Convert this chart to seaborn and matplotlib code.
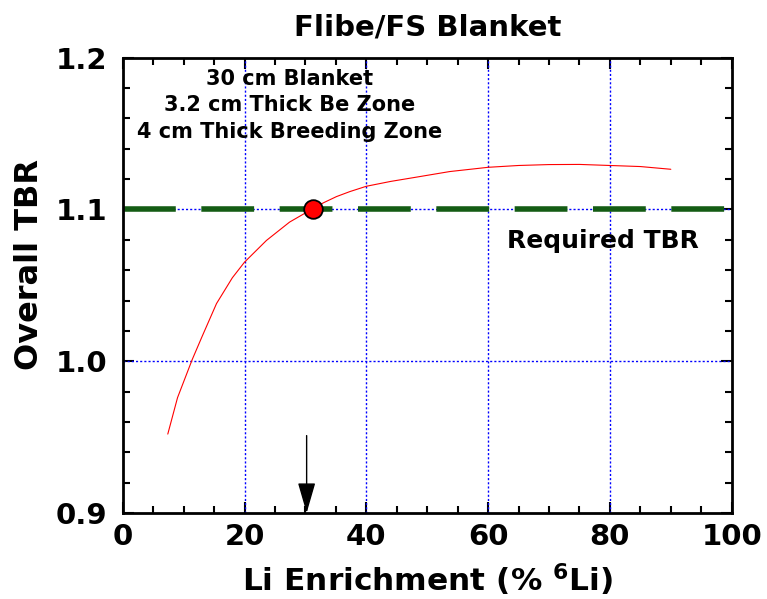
import numpy as np
import pandas as pd
import matplotlib
matplotlib.use("Agg")
import matplotlib.pyplot as plt
import seaborn as sns
from matplotlib.ticker import MultipleLocator, FormatStrFormatter

# TBR vs Li-6 enrichment
enrichment = [7.4, 9.0, 11.4, 13.0, 15.4, 18.0, 20.0, 23.6, 27.4, 31.2, 33.0, 35.1, 37.3,
              40.0, 44.0, 48.2, 53.7, 60.0, 65.0, 70.0, 75.0, 80.0, 85.0, 90.0]
tbr = [0.952, 0.976, 1.001, 1.016, 1.038, 1.055, 1.0653, 1.0796, 1.0917, 1.1005, 1.1045, 1.1085, 1.1118,
       1.1153, 1.1185, 1.1213, 1.125, 1.1278, 1.129, 1.1296, 1.1297, 1.129, 1.1283, 1.1265]
required_tbr = 1.1
design_point_x = [31.2]
design_point_y = [1.1]
arrow_x = 30.2
note_lines = ["30 cm Blanket", "3.2 cm Thick Be Zone", "4 cm Thick Breeding Zone"]

curve = pd.DataFrame({"Li Enrichment": enrichment, "TBR": tbr})
point = pd.DataFrame({"x": design_point_x, "y": design_point_y})

sns.set_style("ticks")
plt.rcParams["font.family"] = ["DejaVu Sans"]
plt.rcParams["font.weight"] = "bold"
plt.rcParams["text.color"] = "black"
plt.rcParams["axes.labelcolor"] = "black"
plt.rcParams["xtick.color"] = "black"
plt.rcParams["ytick.color"] = "black"
plt.rcParams["axes.edgecolor"] = "black"
plt.rcParams["mathtext.fontset"] = "custom"
plt.rcParams["mathtext.rm"] = "DejaVu Sans:bold"
plt.rcParams["mathtext.bf"] = "DejaVu Sans:bold"

fig = plt.figure(figsize=(7.67, 5.99), dpi=100)
ax = fig.add_axes([0.160, 0.1436, 0.794, 0.760])

# grid
for gx in [20, 40, 60, 80]:
    ax.axvline(gx, color="blue", lw=1, ls=(0, (1.5, 1.5)), zorder=1)
for gy in [1.0, 1.1]:
    ax.axhline(gy, color="blue", lw=1, ls=(0, (1.5, 1.5)), zorder=1)

# required TBR line
ax.axhline(required_tbr, color="#145c14", lw=4, ls=(0, (9.5, 4.6)), zorder=2)

sns.lineplot(data=curve, x="Li Enrichment", y="TBR", color="red", lw=0.8, ax=ax, zorder=3)
sns.scatterplot(data=point, x="x", y="y", color="red", edgecolor="black", linewidth=1.3,
                s=180, ax=ax, zorder=4, legend=False)

ax.annotate("", xy=(arrow_x, 0.9), xytext=(arrow_x, 0.951),
            arrowprops=dict(arrowstyle="-|>,head_length=1.9,head_width=0.55",
                            color="black", lw=1, shrinkA=0, shrinkB=0))

for i, line in enumerate(note_lines):
    ax.text(27.4, 1.1862 - i * 0.01745, line, ha="center", va="center",
            fontsize=15, fontweight="bold")
ax.text(78.8, 1.079, "Required TBR", ha="center", va="center", fontsize=18, fontweight="bold")

ax.set_xlim(0, 100)
ax.set_ylim(0.9, 1.2)
ax.xaxis.set_major_locator(MultipleLocator(20))
ax.xaxis.set_minor_locator(MultipleLocator(5))
ax.yaxis.set_major_locator(MultipleLocator(0.1))
ax.yaxis.set_minor_locator(MultipleLocator(0.02))
ax.xaxis.set_major_formatter(FormatStrFormatter("%d"))
ax.yaxis.set_major_formatter(FormatStrFormatter("%.1f"))
ax.tick_params(which="both", direction="in", top=True, right=True, width=1.5)
ax.tick_params(which="major", length=8, labelsize=21)
ax.tick_params(axis="x", which="major", pad=7)
ax.tick_params(axis="y", which="major", pad=11)
ax.tick_params(which="minor", length=5)
for lab in ax.get_xticklabels() + ax.get_yticklabels():
    lab.set_fontweight("bold")
for sp in ax.spines.values():
    sp.set_linewidth(2)
    sp.set_visible(True)

ax.set_xlabel(r"Li Enrichment (% $^{6}$Li)", fontsize=22.5, fontweight="bold", labelpad=8)
ax.set_ylabel("Overall TBR", fontsize=23, fontweight="bold", labelpad=8, y=0.545)
ax.set_title("Flibe/FS Blanket", fontsize=21, fontweight="bold", pad=16)

fig.savefig("out.png", dpi=100)
